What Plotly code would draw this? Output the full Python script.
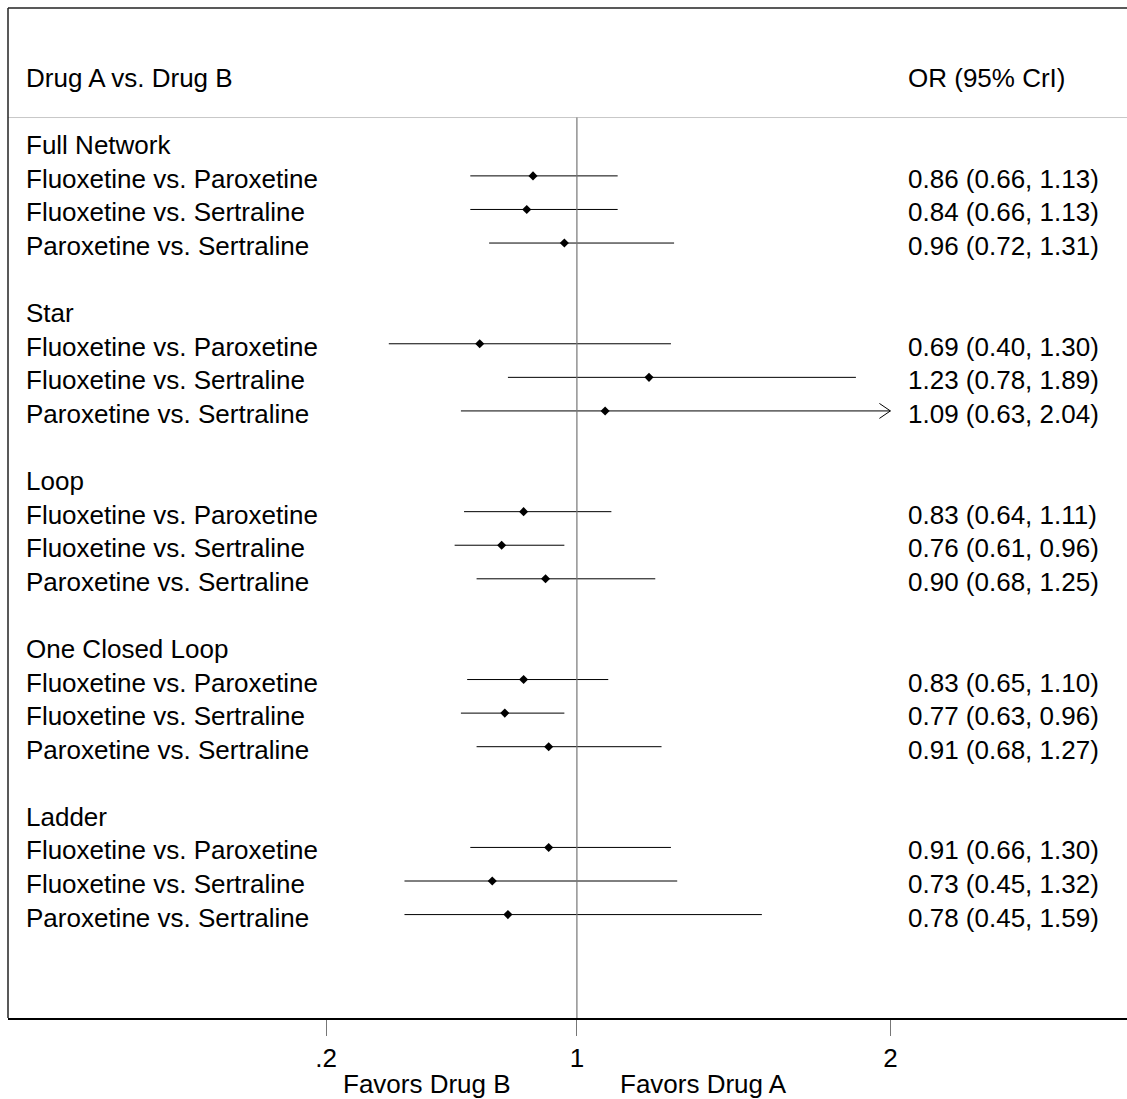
import plotly.graph_objects as go

# ---------------- data ----------------
groups = ["Full Network", "Star", "Loop", "One Closed Loop", "Ladder"]
comparisons = ["Fluoxetine vs. Paroxetine", "Fluoxetine vs. Sertraline", "Paroxetine vs. Sertraline"]
or_est = [0.86, 0.84, 0.96, 0.69, 1.23, 1.09, 0.83, 0.76, 0.90, 0.83, 0.77, 0.91, 0.91, 0.73, 0.78]
or_low = [0.66, 0.66, 0.72, 0.40, 0.78, 0.63, 0.64, 0.61, 0.68, 0.65, 0.63, 0.68, 0.66, 0.45, 0.45]
or_high = [1.13, 1.13, 1.31, 1.30, 1.89, 2.04, 1.11, 0.96, 1.25, 1.10, 0.96, 1.27, 1.30, 1.32, 1.59]
tick_vals = [0.2, 1, 2]
tick_text = [".2", "1", "2"]
header_left = "Drug A vs. Drug B"
header_right = "OR (95% CrI)"
favors_left = "Favors Drug B"
favors_right = "Favors Drug A"

# ---------------- layout constants ----------------
W, H = 1127, 1099
FONT = "Liberation Sans, Arial, sans-serif"
FS = 26
ML, MR, MT, MB = 8, 0, 8, 81
plot_w = W - ML - MR
plot_h = H - MT - MB
px_per_unit = 313.5
x_one_px = 576.9 - ML
x_range = [1 - x_one_px / px_per_unit, 1 + (plot_w - x_one_px) / px_per_unit]
y_range = [26.08, -4.0]          # rows, top to bottom
xmax_clip = max(tick_vals)

# row positions
group_rows, rows = [], []
k = 0
for g in groups:
    group_rows.append(k)
    rows.extend([k + 1, k + 2, k + 3])
    k += 5

fig = go.Figure()

# CI lines
xs, ys = [], []
for lo, hi, r in zip(or_low, or_high, rows):
    xs += [lo, min(hi, xmax_clip), None]
    ys += [r, r, None]
fig.add_trace(go.Scatter(x=xs, y=ys, mode="lines", line=dict(color="black", width=1),
                         hoverinfo="skip", showlegend=False))

# arrowheads for clipped intervals
dx = 11 / px_per_unit
dy = 7.5 / (plot_h / (y_range[0] - y_range[1]))
ax, ay = [], []
for hi, r in zip(or_high, rows):
    if hi > xmax_clip:
        ax += [xmax_clip - dx, xmax_clip, xmax_clip - dx, None]
        ay += [r - dy, r, r + dy, None]
fig.add_trace(go.Scatter(x=ax, y=ay, mode="lines", line=dict(color="black", width=1),
                         hoverinfo="skip", showlegend=False))

# point estimates
fig.add_trace(go.Scatter(x=or_est, y=rows, mode="markers",
                         marker=dict(symbol="diamond", size=7, color="black"),
                         showlegend=False))

ann = []
left_x = (23.9 - ML) / plot_w
right_x = (906 - ML) / plot_w
ys_shift = -3
txt = dict(family=FONT, size=FS, color="black")

def add_text(x, y, s, anchor="left", xref="paper", yref="y", yshift=0):
    ann.append(dict(x=x, y=y, xref=xref, yref=yref, text=s, showarrow=False,
                    xanchor=anchor, yanchor="middle", font=txt, yshift=yshift))

add_text(left_x, -2, header_left, yshift=ys_shift)
add_text(right_x, -2, header_right, yshift=ys_shift)
for g, gr in zip(groups, group_rows):
    add_text(left_x, gr, g, yshift=ys_shift)
for i, r in enumerate(rows):
    add_text(left_x, r, comparisons[i % 3], yshift=ys_shift)
    add_text(right_x, r, f"{or_est[i]:.2f} ({or_low[i]:.2f}, {or_high[i]:.2f})", yshift=ys_shift)

fav_y = (1018 - 1084) / plot_h
add_text(1 + (427.4 - 576.9) / px_per_unit, fav_y, favors_left, anchor="center", xref="x", yref="paper")
add_text(1 + (703.7 - 576.9) / px_per_unit, fav_y, favors_right, anchor="center", xref="x", yref="paper")

header_line_y = -0.738
shapes = [
    # header separator
    dict(type="line", xref="paper", yref="y", x0=0, x1=1, y0=header_line_y, y1=header_line_y,
         line=dict(color="#c8c8c8", width=1)),
    # reference line at 1
    dict(type="line", xref="x", yref="y", x0=1, x1=1, y0=header_line_y, y1=y_range[0],
         line=dict(color="#777777", width=1.2)),
    # top border
    dict(type="line", xref="paper", yref="paper", x0=0, x1=1, y0=1, y1=1,
         line=dict(color="#222222", width=1.5)),
    # left border
    dict(type="line", xref="paper", yref="paper", x0=0, x1=0, y0=0, y1=1,
         line=dict(color="#222222", width=1.5)),
]

fig.update_layout(
    width=W, height=H,
    margin=dict(l=ML, r=MR, t=MT, b=MB, pad=0),
    paper_bgcolor="white", plot_bgcolor="white",
    font=dict(family=FONT, size=FS, color="black"),
    annotations=ann, shapes=shapes, showlegend=False,
    xaxis=dict(range=x_range, tickvals=tick_vals, ticktext=tick_text, ticks="outside",
               ticklen=16, tickwidth=1, tickcolor="#777777", showline=True, linecolor="black",
               linewidth=1.5, showgrid=False, zeroline=False, tickfont=dict(family=FONT, size=FS)),
    yaxis=dict(range=y_range, visible=False, showgrid=False, zeroline=False),
)

fig.write_html("out.html")
